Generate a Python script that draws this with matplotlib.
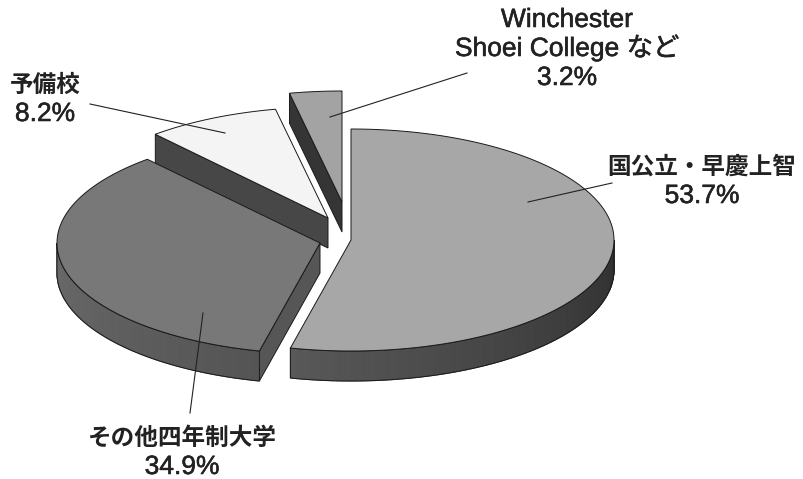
import numpy as np
import matplotlib.pyplot as plt
import matplotlib.patheffects as pe
from matplotlib.colors import to_rgb
from matplotlib.patches import Polygon

# data
labels = ['国公立・早慶上智', 'その他四年制大学', '予備校', 'Winchester\nShoei College など']
shares = [53.7, 34.9, 8.2, 3.2]

# look of the 3d pie (pixel units, y down)
center = (335, 238)
rx, ry, depth = 263, 111, 30
explode_px = [(16, 2), (-15, 5), (-7, -20), (7, -36)]
top_colors = ['#a7a7a7', '#787878', '#f4f4f4', '#a3a3a3']
side_grad = [('#2e2e2e', '#585858'), ('#545454', '#6a6a6a'), ('#444444', '#444444'), ('#333333', '#333333')]
cut_colors = ['#555555', '#565656', '#474747', '#353535']
edge = '#1a1a1a'

# centre of the first label line, then one line every 29 px
label_xy = [(702, 165), (182, 436), (45, 83), (567, 18)]
line_step = 29
leaders = [((612, 183), (528, 202)), ((190, 413), (203, 313)),
           ((90, 104), (225, 133)), ((467, 73), (330, 117))]

fig = plt.figure(figsize=(8.04, 4.79), dpi=100)
ax = fig.add_axes([0, 0, 1, 1])
ax.set_xlim(0, 804)
ax.set_ylim(479, 0)
ax.axis('off')


def rim(cx, cy, t, dz=0):
    t = np.radians(t)
    return np.column_stack([cx + rx * np.sin(t), cy - ry * np.cos(t) + dz])


bounds = np.concatenate([[0], np.cumsum(shares) / 100 * 360])

for i in [3, 2, 1, 0]:
    t0, t1 = bounds[i], bounds[i + 1]
    cx = center[0] + explode_px[i][0]
    cy = center[1] + explode_px[i][1]
    apex = np.array([[cx, cy]])
    apex_d = np.array([[cx, cy + depth]])

    # radial cut faces that face the viewer
    for t, nrm in [(t0, t0 - 90), (t1, t1 + 90)]:
        if np.cos(np.radians(nrm)) < -1e-6:
            p = rim(cx, cy, [t])
            pd = rim(cx, cy, [t], depth)
            quad = np.vstack([apex, p, pd, apex_d])
            ax.add_patch(Polygon(quad, closed=True, fc=cut_colors[i], ec=edge, lw=0.7))

    # outer curved side (front half only), shaded with a gradient
    s0, s1 = max(t0, 90), min(t1, 270)
    if s1 > s0:
        ts = np.linspace(s0, s1, 80)
        c0 = np.array(to_rgb(side_grad[i][0]))
        c1 = np.array(to_rgb(side_grad[i][1]))
        for k in range(len(ts) - 1):
            a = rim(cx, cy, ts[k:k + 2])
            b = rim(cx, cy, ts[k:k + 2], depth)
            col = c0 + (c1 - c0) * (k + 0.5) / (len(ts) - 1)
            ax.add_patch(Polygon(np.vstack([a, b[::-1]]), closed=True,
                                 fc=col, ec=col, lw=0.8))
        a = rim(cx, cy, ts)
        b = rim(cx, cy, ts, depth)
        ax.add_patch(Polygon(np.vstack([a, b[::-1]]), closed=True, fc='none', ec=edge, lw=0.7))

    # top face
    arc = rim(cx, cy, np.linspace(t0, t1, 200))
    ax.add_patch(Polygon(np.vstack([apex, arc]), closed=True, fc=top_colors[i], ec=edge, lw=0.7))

# labels and leader lines
thicken = [pe.withStroke(linewidth=0.4, foreground='#222222')]
for i in range(len(shares)):
    (x0, y0), (x1, y1) = leaders[i]
    ax.plot([x0, x1], [y0, y1], color='#222222', lw=0.8)
    lines = labels[i].split('\n') + [f'{shares[i]}%']
    for j, line in enumerate(lines):
        y = label_xy[i][1] + j * line_step + 9
        if any(c.isascii() and c.isalnum() for c in line):
            ax.text(label_xy[i][0], y, line, ha='center', va='baseline', fontsize=19,
                    family=['Liberation Sans', 'Noto Sans CJK JP'], color='#222222',
                    path_effects=thicken)
        else:
            ax.text(label_xy[i][0], y, line, ha='center', va='baseline', fontsize=17,
                    family=['Noto Sans CJK JP', 'DejaVu Sans'], fontweight='bold',
                    color='#222222')

fig.savefig('out.png', dpi=100, facecolor='white')
